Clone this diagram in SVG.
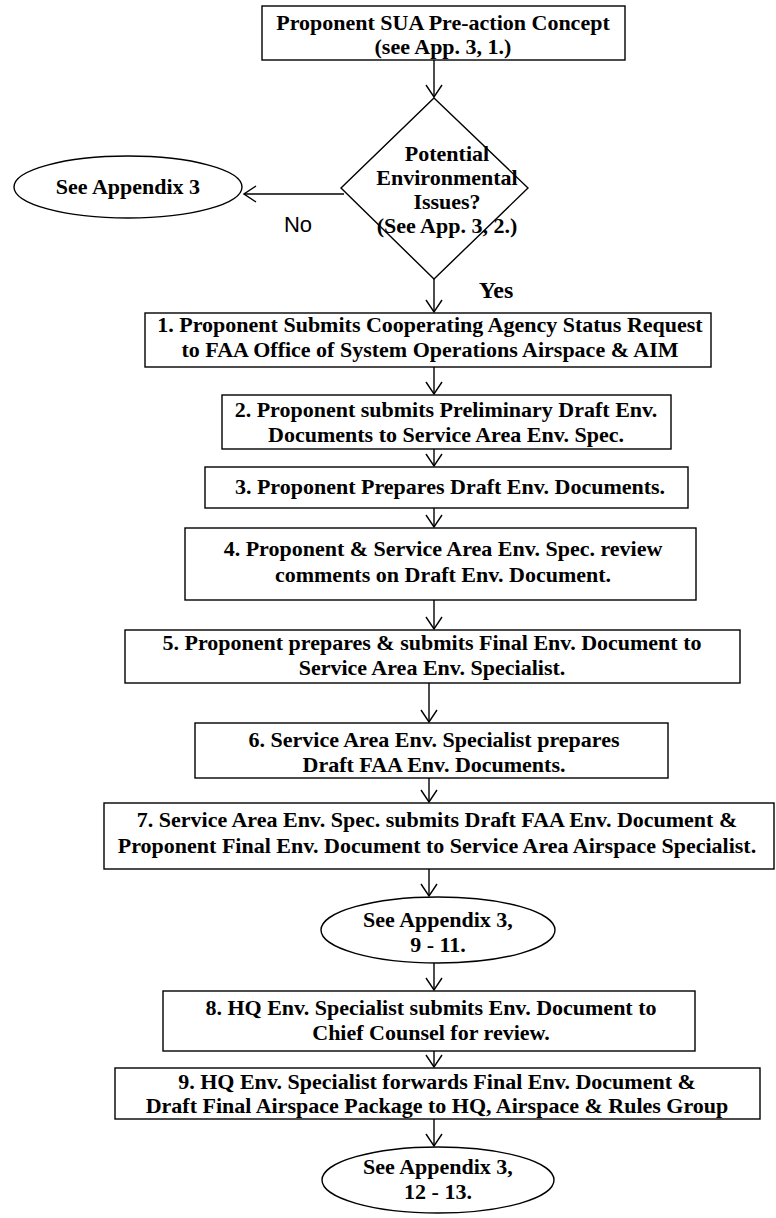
<svg xmlns="http://www.w3.org/2000/svg" width="776" height="1218" viewBox="0 0 776 1218">
<defs>
<style>
.bx{fill:#fff;stroke:#000;stroke-width:1.4}
.t{font-family:"Liberation Serif","Times New Roman",serif;font-weight:bold;font-size:22px;fill:#000;text-anchor:middle}
.c{fill:none;stroke:#000;stroke-width:1.4}
.lbl{font-family:"Liberation Sans",Arial,sans-serif;font-size:22px;fill:#000}
</style>
<marker id="ah" viewBox="0 0 14 18" refX="13" refY="9" markerWidth="14" markerHeight="18" markerUnits="userSpaceOnUse" orient="auto">
<path d="M1,1 L13,9 L1,17" fill="none" stroke="#000" stroke-width="1.4"/>
</marker>
</defs>
<rect width="776" height="1218" fill="#fff"/>

<g id="connectors">
<line class="c" x1="434" y1="60" x2="434" y2="97" marker-end="url(#ah)"/>
<line class="c" x1="344" y1="194" x2="244" y2="194" marker-end="url(#ah)"/>
<line class="c" x1="434" y1="279" x2="434" y2="312" marker-end="url(#ah)"/>
<line class="c" x1="434" y1="367" x2="434" y2="394" marker-end="url(#ah)"/>
<line class="c" x1="434" y1="449" x2="434" y2="466" marker-end="url(#ah)"/>
<line class="c" x1="434" y1="508" x2="434" y2="527" marker-end="url(#ah)"/>
<line class="c" x1="434" y1="600" x2="434" y2="629" marker-end="url(#ah)"/>
<line class="c" x1="429" y1="683" x2="429" y2="722" marker-end="url(#ah)"/>
<line class="c" x1="429" y1="778" x2="429" y2="802" marker-end="url(#ah)"/>
<line class="c" x1="429" y1="869" x2="429" y2="896" marker-end="url(#ah)"/>
<line class="c" x1="434" y1="963" x2="434" y2="990" marker-end="url(#ah)"/>
<line class="c" x1="434" y1="1051" x2="434" y2="1067" marker-end="url(#ah)"/>
<line class="c" x1="434" y1="1119" x2="434" y2="1146" marker-end="url(#ah)"/>
<text class="lbl" x="298" y="232" text-anchor="middle">No</text>
<text class="t" x="496" y="298" style="font-size:24px">Yes</text>
</g>

<g id="start">
<rect class="bx" x="262" y="6" width="363" height="54"/>
<text class="t" x="443" y="30">Proponent SUA Pre-action Concept</text>
<text class="t" x="443" y="54">(see App. 3, 1.)</text>
</g>

<g id="decision">
<polygon class="bx" points="434,98 528,188 434,279 341,188"/>
<text class="t" x="447" y="161">Potential</text>
<text class="t" x="447" y="185">Environmental</text>
<text class="t" x="447" y="209">Issues?</text>
<text class="t" x="447" y="233">(See App. 3, 2.)</text>
</g>

<g id="app3">
<ellipse class="bx" cx="128" cy="187" rx="114" ry="31"/>
<text class="t" x="128" y="194">See Appendix 3</text>
</g>

<g id="step1">
<rect class="bx" x="145" y="313" width="566" height="54"/>
<text class="t" x="430" y="332">1. Proponent Submits Cooperating Agency Status Request</text>
<text class="t" x="430" y="357">to FAA Office of System Operations Airspace &amp; AIM</text>
</g>

<g id="step2">
<rect class="bx" x="222" y="395" width="449" height="54"/>
<text class="t" x="446" y="417">2. Proponent submits Preliminary Draft Env.</text>
<text class="t" x="446" y="442">Documents to Service Area Env. Spec.</text>
</g>

<g id="step3">
<rect class="bx" x="205" y="467" width="483" height="41"/>
<text class="t" x="450" y="494">3. Proponent Prepares Draft Env. Documents.</text>
</g>

<g id="step4">
<rect class="bx" x="185" y="528" width="511" height="72"/>
<text class="t" x="443" y="556">4. Proponent &amp; Service Area Env. Spec. review</text>
<text class="t" x="443" y="582">comments on Draft Env. Document.</text>
</g>

<g id="step5">
<rect class="bx" x="125" y="630" width="615" height="53"/>
<text class="t" x="432" y="650">5. Proponent prepares &amp; submits Final Env. Document to</text>
<text class="t" x="432" y="675">Service Area Env. Specialist.</text>
</g>

<g id="step6">
<rect class="bx" x="195" y="723" width="473" height="55"/>
<text class="t" x="434" y="747">6. Service Area Env. Specialist prepares</text>
<text class="t" x="434" y="772">Draft FAA Env. Documents.</text>
</g>

<g id="step7">
<rect class="bx" x="104" y="803" width="670" height="66"/>
<text class="t" x="437" y="827">7. Service Area Env. Spec. submits Draft FAA Env. Document &amp;</text>
<text class="t" x="437" y="853">Proponent Final Env. Document to Service Area Airspace Specialist.</text>
</g>

<g id="app3b">
<ellipse class="bx" cx="438" cy="930" rx="117" ry="33"/>
<text class="t" x="438" y="927">See Appendix 3,</text>
<text class="t" x="438" y="952">9 - 11.</text>
</g>

<g id="step8">
<rect class="bx" x="163" y="991" width="532" height="60"/>
<text class="t" x="431" y="1015">8. HQ Env. Specialist submits Env. Document to</text>
<text class="t" x="431" y="1040">Chief Counsel for review.</text>
</g>

<g id="step9">
<rect class="bx" x="115" y="1068" width="645" height="51"/>
<text class="t" x="437" y="1089">9. HQ Env. Specialist forwards Final Env. Document &amp;</text>
<text class="t" x="437" y="1113">Draft Final Airspace Package to HQ, Airspace &amp; Rules Group</text>
</g>

<g id="app3c">
<ellipse class="bx" cx="438" cy="1180" rx="116" ry="33"/>
<text class="t" x="438" y="1174">See Appendix 3,</text>
<text class="t" x="438" y="1199">12 - 13.</text>
</g>
</svg>
